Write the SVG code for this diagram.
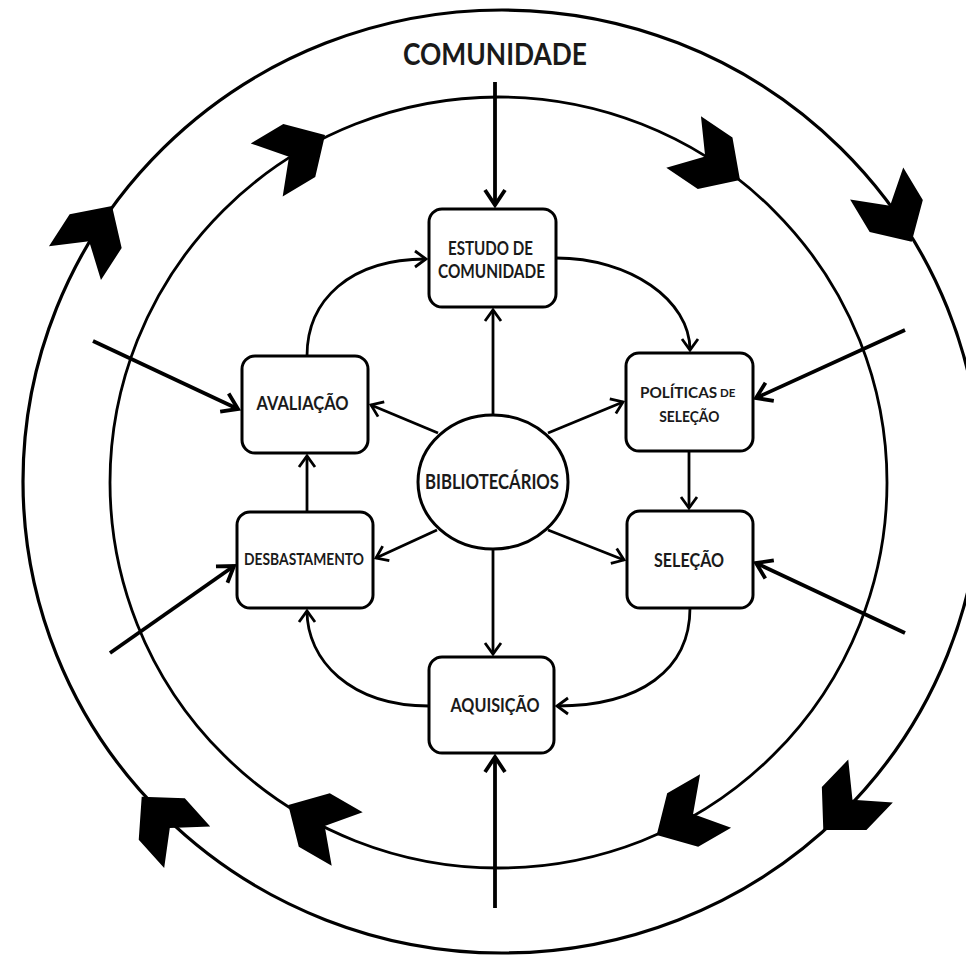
<svg xmlns="http://www.w3.org/2000/svg" width="966" height="955" viewBox="0 0 966 955">
<style>
.ring{fill:none;stroke:#000;stroke-width:3.2}
.chev{fill:#000;stroke:none}
.box{fill:#fff;stroke:#000;stroke-width:3}
.t{font-family:Lato,"Liberation Sans",sans-serif;font-weight:bold;fill:#1a1a1a;text-anchor:middle}
.c{fill:none;stroke:#000;stroke-width:2.8;marker-end:url(#ah)}
.ci{fill:none;stroke:#000;stroke-width:3.8;marker-end:url(#ahL)}
</style>
<defs>
<marker id="ah" viewBox="-16 -11 20 22" refX="0" refY="0" markerWidth="20" markerHeight="22" markerUnits="userSpaceOnUse" orient="auto">
<path d="M-11,-8 L0,0 L-11,8" fill="none" stroke="#000" stroke-width="2.8"/>
</marker>
<marker id="ahL" viewBox="-20 -13 24 26" refX="0" refY="0" markerWidth="24" markerHeight="26" markerUnits="userSpaceOnUse" orient="auto">
<path d="M-15,-10 L0,0 L-15,10" fill="none" stroke="#000" stroke-width="3.8"/>
</marker>
<path id="chv" d="M0,0 L-30,-31 L-68,-31 L-42,0 L-68,31 L-30,31 Z"/>
</defs>
<rect width="966" height="955" fill="#fff"/>
<g id="rings">
<ellipse class="ring" cx="502" cy="481.5" rx="479" ry="471.5"/>
<ellipse class="ring" cx="498.5" cy="482.5" rx="388.5" ry="385.5" style="stroke-width:2.8"/>
<use href="#chv" class="chev" transform="translate(112,206) rotate(-57)"/>
<use href="#chv" class="chev" transform="translate(911.7,241.7) rotate(59)"/>
<use href="#chv" class="chev" transform="translate(823.3,830) rotate(134)"/>
<use href="#chv" class="chev" transform="translate(141.7,796.7) rotate(-132)"/>
<use href="#chv" class="chev" transform="translate(325,135) rotate(-31)"/>
<use href="#chv" class="chev" transform="translate(740,180) rotate(34)"/>
<use href="#chv" class="chev" transform="translate(656.7,835) rotate(150)"/>
<use href="#chv" class="chev" transform="translate(288.3,805) rotate(-150)"/>
</g>
<g id="comunidade">
<text class="t" x="495" y="65" font-size="31" textLength="184" lengthAdjust="spacingAndGlyphs">COMUNIDADE</text>
</g>
<g id="connectors">
<path class="ci" d="M495,82 L495,205"/>
<path class="ci" d="M495,908 L495,757"/>
<path class="ci" d="M93,341 L238,409"/>
<path class="ci" d="M110,653 L234,566"/>
<path class="ci" d="M905,330 L756,398"/>
<path class="ci" d="M905,633 L756,563"/>
<path class="c" d="M493,415 L493,310"/>
<path class="c" d="M493,549 L493,654"/>
<path class="c" d="M438,433 L371,405"/>
<path class="c" d="M437,530 L376,558"/>
<path class="c" d="M548,433 L623,402"/>
<path class="c" d="M548,530 L624,560"/>
<path class="c" d="M307,512 L307,456"/>
<path class="c" d="M689,451 L689,508"/>
<path class="c" d="M556,258 C630,258 690,300 690,350"/>
<path class="c" d="M307,356 C307,300 350,259 426,259"/>
<path class="c" d="M690,608 C690,670 640,706 557,706"/>
<path class="c" d="M429,706 C350,706 307,660 307,611"/>
</g>
<g id="estudo">
<rect class="box" x="429" y="209" width="127" height="98" rx="13"/>
<text class="t" x="490.5" y="255" font-size="19" textLength="85" lengthAdjust="spacingAndGlyphs">ESTUDO DE</text>
<text class="t" x="491.5" y="278" font-size="19" textLength="107" lengthAdjust="spacingAndGlyphs">COMUNIDADE</text>
</g>
<g id="avaliacao">
<rect class="box" x="242" y="356" width="126" height="97" rx="13"/>
<text class="t" x="302.5" y="410" font-size="19" textLength="92" lengthAdjust="spacingAndGlyphs">AVALIAÇÃO</text>
</g>
<g id="desbastamento">
<rect class="box" x="237" y="512" width="136" height="96" rx="13"/>
<text class="t" x="304" y="565" font-size="17" textLength="120" lengthAdjust="spacingAndGlyphs">DESBASTAMENTO</text>
</g>
<g id="bibliotecarios">
<ellipse class="box" cx="493" cy="482" rx="75" ry="67"/>
<text class="t" x="492" y="489" font-size="20" textLength="134" lengthAdjust="spacingAndGlyphs">BIBLIOTECÁRIOS</text>
</g>
<g id="politicas">
<rect class="box" x="626" y="353" width="127" height="98" rx="13"/>
<text class="t" x="640" y="398" font-size="15.3" style="text-anchor:start">POLÍTICAS</text>
<text class="t" x="720" y="397" font-size="11.5" style="text-anchor:start">DE</text>
<text class="t" x="689.3" y="422" font-size="16" textLength="60" lengthAdjust="spacingAndGlyphs">SELEÇÃO</text>
</g>
<g id="selecao">
<rect class="box" x="627" y="511" width="126" height="97" rx="13"/>
<text class="t" x="689" y="567" font-size="19" textLength="70" lengthAdjust="spacingAndGlyphs">SELEÇÃO</text>
</g>
<g id="aquisicao">
<rect class="box" x="429" y="657" width="125" height="96" rx="13"/>
<text class="t" x="495" y="712" font-size="19" textLength="89" lengthAdjust="spacingAndGlyphs">AQUISIÇÃO</text>
</g>
</svg>
